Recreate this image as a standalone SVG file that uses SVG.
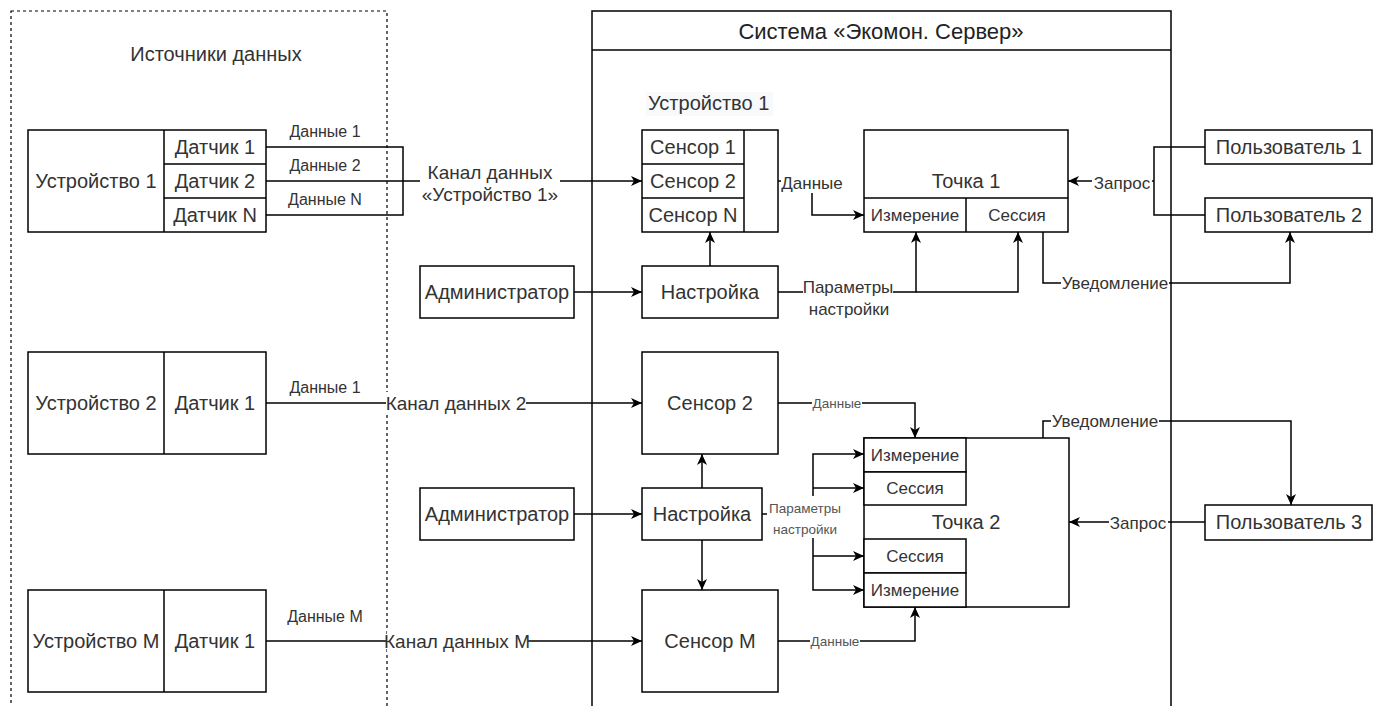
<svg xmlns="http://www.w3.org/2000/svg" width="1376" height="706" viewBox="0 0 1376 706">
<style>
.b{fill:#fff;stroke:#000;stroke-width:1.5}
.l{fill:none;stroke:#000;stroke-width:1.5}
.t{font-family:"Liberation Sans",Arial,sans-serif;font-size:20px;fill:#333;text-anchor:middle}
.m{font-family:"Liberation Sans",Arial,sans-serif;font-size:17px;fill:#333;text-anchor:middle}
.e{font-family:"Liberation Sans",Arial,sans-serif;font-size:16px;fill:#333;text-anchor:middle}
.c{font-family:"Liberation Sans",Arial,sans-serif;font-size:19px;fill:#333;text-anchor:middle}
.s{font-family:"Liberation Sans",Arial,sans-serif;font-size:13.5px;fill:#555;text-anchor:middle}
.bg{fill:#fff}
</style>
<defs>
<marker id="a" markerUnits="userSpaceOnUse" markerWidth="12" markerHeight="10" refX="11" refY="5" orient="auto">
<path d="M0,0 L11,5 L0,10 L3,5 Z" fill="#000"/>
</marker>
</defs>
<g id="sources">
<rect x="11" y="11" width="376" height="720" fill="none" stroke="#000" stroke-width="1.2" stroke-dasharray="3,3"/>
<text class="t" x="216" y="61">Источники данных</text>
</g>
<g id="system">
<rect x="592" y="11" width="579" height="720" class="b"/>
<line x1="592" y1="50" x2="1171" y2="50" class="l"/>
<text class="t" x="881" y="39" style="font-size:22px;fill:#222">Система «Экомон. Сервер»</text>
</g>
<g id="device1">
<rect x="28" y="130" width="238" height="102" class="b"/>
<path d="M164,130V232M164,164H266M164,198H266" class="l"/>
<text class="t" x="96" y="188">Устройство 1</text>
<text class="t" x="215" y="154">Датчик 1</text>
<text class="t" x="215" y="188">Датчик 2</text>
<text class="t" x="215" y="222">Датчик N</text>
</g>
<g id="device2">
<rect x="28" y="352" width="238" height="102" class="b"/>
<path d="M164,352V454" class="l"/>
<text class="t" x="96" y="410">Устройство 2</text>
<text class="t" x="215" y="410">Датчик 1</text>
</g>
<g id="deviceM">
<rect x="28" y="590" width="238" height="102" class="b"/>
<path d="M164,590V692" class="l"/>
<text class="t" x="96" y="648">Устройство M</text>
<text class="t" x="215" y="648">Датчик 1</text>
</g>
<g id="sensors1">
<rect x="646" y="92" width="127" height="24" fill="#f8f9fa"/>
<text class="t" x="648" y="110" style="text-anchor:start">Устройство 1</text>
<rect x="642" y="130" width="136" height="102" class="b"/>
<path d="M744,130V232M642,164H744M642,198H744" class="l"/>
<text class="t" x="693" y="154">Сенсор 1</text>
<text class="t" x="693" y="188">Сенсор 2</text>
<text class="t" x="693" y="222">Сенсор N</text>
</g>
<g id="point1">
<rect x="864" y="130" width="204" height="102" class="b"/>
<path d="M864,198H1068M966,198V232" class="l"/>
<text class="t" x="966" y="188">Точка 1</text>
<text class="m" x="915" y="221">Измерение</text>
<text class="m" x="1017" y="221">Сессия</text>
</g>
<g id="user1">
<rect x="1205" y="130" width="167" height="34" class="b"/>
<text class="t" x="1289" y="154">Пользователь 1</text>
</g>
<g id="user2">
<rect x="1205" y="198" width="167" height="34" class="b"/>
<text class="t" x="1289" y="222">Пользователь 2</text>
</g>
<g id="admin1">
<rect x="420" y="266" width="154" height="52" class="b"/>
<text class="t" x="497" y="299">Администратор</text>
</g>
<g id="setup1">
<rect x="642" y="266" width="136" height="52" class="b"/>
<text class="t" x="710" y="299">Настройка</text>
</g>
<g id="sensor2">
<rect x="642" y="352" width="136" height="102" class="b"/>
<text class="t" x="710" y="410">Сенсор 2</text>
</g>
<g id="admin2">
<rect x="420" y="488" width="154" height="52" class="b"/>
<text class="t" x="497" y="521">Администратор</text>
</g>
<g id="setup2">
<rect x="642" y="488" width="120" height="52" class="b"/>
<text class="t" x="702" y="521">Настройка</text>
</g>
<g id="sensorM">
<rect x="642" y="590" width="136" height="102" class="b"/>
<text class="t" x="710" y="648">Сенсор M</text>
</g>
<g id="point2">
<rect x="864" y="438" width="205" height="169" class="b"/>
<rect x="864" y="438" width="102" height="34" class="b"/>
<rect x="864" y="472" width="102" height="33" class="b"/>
<rect x="864" y="539" width="102" height="34" class="b"/>
<rect x="864" y="573" width="102" height="34" class="b"/>
<text class="m" x="915" y="461">Измерение</text>
<text class="m" x="915" y="494">Сессия</text>
<text class="t" x="966" y="529">Точка 2</text>
<text class="m" x="915" y="562">Сессия</text>
<text class="m" x="915" y="596">Измерение</text>
</g>
<g id="user3">
<rect x="1205" y="505" width="167" height="35" class="b"/>
<text class="t" x="1289" y="529">Пользователь 3</text>
</g>
<g id="connectors">
<path d="M266,147H403V215H266M266,181H403" class="l"/>
<path d="M403,181H642" class="l" marker-end="url(#a)"/>
<rect x="420" y="160" width="140" height="45" class="bg"/>
<text class="c" x="490" y="179">Канал данных</text>
<text class="c" x="490" y="201">«Устройство 1»</text>
<text class="e" x="325" y="137">Данные 1</text>
<text class="e" x="325" y="171">Данные 2</text>
<text class="e" x="325" y="205">Данные N</text>
<path d="M778,181H812V215H864" class="l" marker-end="url(#a)"/>
<rect x="781" y="173" width="63" height="20" class="bg"/>
<text class="m" x="812" y="189">Данные</text>
<path d="M574,292H642" class="l" marker-end="url(#a)"/>
<path d="M710,266V232" class="l" marker-end="url(#a)"/>
<path d="M778,292H916V232" class="l" marker-end="url(#a)"/>
<path d="M916,292H1018V232" class="l" marker-end="url(#a)"/>
<rect x="803" y="276" width="90" height="44" class="bg"/>
<text class="m" x="848" y="293">Параметры</text>
<text class="m" x="849" y="315">настройки</text>
<path d="M1043,232V283H1290V232" class="l" marker-end="url(#a)"/>
<rect x="1061" y="275" width="108" height="18" class="bg"/>
<text class="m" x="1115" y="289">Уведомление</text>
<path d="M1205,147H1154V215H1205" class="l"/>
<path d="M1154,181H1068" class="l" marker-end="url(#a)"/>
<rect x="1092" y="173" width="60" height="18" class="bg"/>
<text class="m" x="1122" y="189">Запрос</text>
<path d="M266,403H642" class="l" marker-end="url(#a)"/>
<rect x="386" y="392" width="140" height="22" class="bg"/>
<text class="c" x="456" y="410">Канал данных 2</text>
<text class="e" x="325" y="393">Данные 1</text>
<path d="M574,514H642" class="l" marker-end="url(#a)"/>
<path d="M702,488V454" class="l" marker-end="url(#a)"/>
<path d="M702,540V590" class="l" marker-end="url(#a)"/>
<path d="M778,403H915V438" class="l" marker-end="url(#a)"/>
<rect x="812" y="396" width="50" height="15" class="bg"/>
<text class="s" x="837" y="408">Данные</text>
<path d="M778,641H915V607" class="l" marker-end="url(#a)"/>
<rect x="810" y="634" width="50" height="15" class="bg"/>
<text class="s" x="835" y="646">Данные</text>
<path d="M762,514H813" class="l"/>
<path d="M813,514V454H864" class="l" marker-end="url(#a)"/>
<path d="M813,488H864" class="l" marker-end="url(#a)"/>
<path d="M813,514V590H864" class="l" marker-end="url(#a)"/>
<path d="M813,556H864" class="l" marker-end="url(#a)"/>
<rect x="767" y="496" width="76" height="42" class="bg"/>
<text class="s" x="805" y="513">Параметры</text>
<text class="s" x="805" y="534">настройки</text>
<path d="M1043,438V421H1291V505" class="l" marker-end="url(#a)"/>
<rect x="1051" y="412" width="108" height="18" class="bg"/>
<text class="m" x="1105" y="427">Уведомление</text>
<path d="M1205,522H1069" class="l" marker-end="url(#a)"/>
<rect x="1109" y="514" width="59" height="18" class="bg"/>
<text class="m" x="1138" y="529">Запрос</text>
<path d="M266,641H642" class="l" marker-end="url(#a)"/>
<rect x="387" y="630" width="141" height="22" class="bg"/>
<text class="c" x="457" y="648">Канал данных M</text>
<text class="e" x="325" y="622">Данные M</text>
</g>
</svg>
